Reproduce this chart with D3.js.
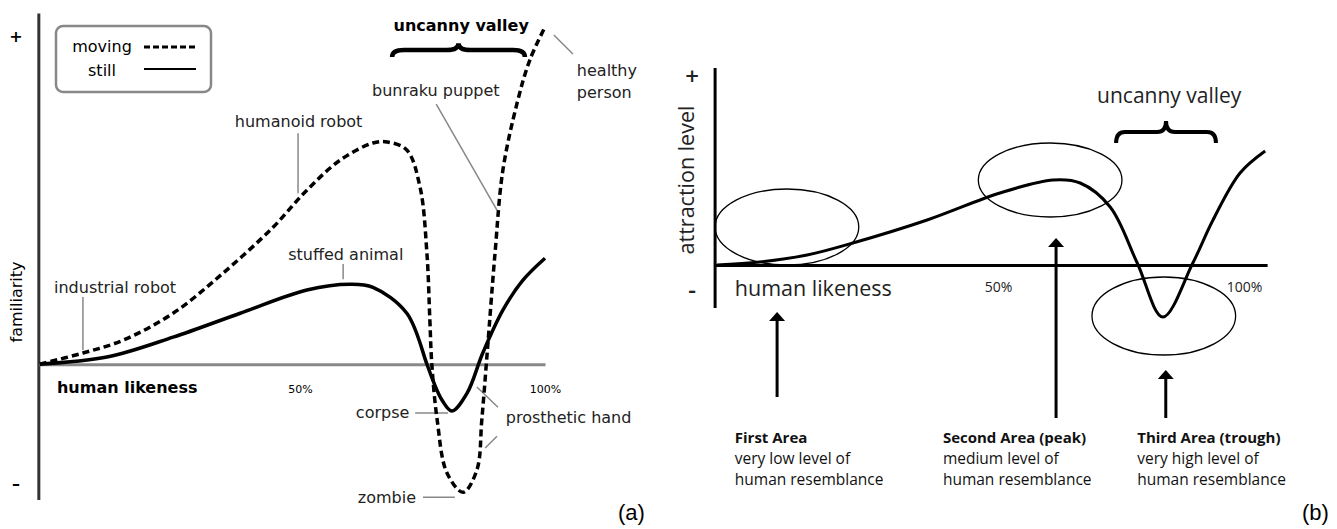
<!DOCTYPE html>
<html>
<head>
<meta charset="utf-8">
<script src="https://cdn.jsdelivr.net/npm/d3@7"></script>
<style>
body { margin: 0; background: #fff; }
</style>
</head>
<body>
<script>
// ---- panel (a): Mori's curve ----
var movingLikeness = [-3.1, 5.7, 13.9, 24.1, 34.3, 44.5, 51.4, 58.2, 64.9, 67.8, 71.8, 74.5, 75.9, 76.5, 76.9, 78.0, 80.0, 83.3, 86.1, 87.1, 88.2, 89.8, 91.4, 94.3, 96.9, 100];
var movingFamiliarity = [0, 3.3, 7.1, 15.1, 27.0, 40.6, 51.6, 60.5, 65.6, 65.9, 63.5, 52.5, 32.9, 13.1, 0, -16.6, -32.3, -38.0, -31.4, -16.6, 3.3, 32.9, 57.5, 77.4, 90.2, 100];

var stillLikeness = [-3.1, 10.6, 24.1, 37.8, 51.4, 60.2, 64.9, 71.8, 75.9, 77.1, 79.0, 81.0, 84.1, 87.3, 91.4, 95.5, 100];
var stillFamiliarity = [0, 2.1, 8.0, 15.1, 22.0, 23.7, 22.8, 15.1, 0, -4.7, -10.7, -13.9, -8.6, 3.3, 16.0, 24.9, 31.4];

var tickValuesA = [50, 100];
var tickLabelsA = ["50%", "100%"];

// ---- panel (b): attraction curve ----
var attrLikeness = [-7.1, 1.6, 11.2, 20.5, 35.6, 50.4, 61.2, 66.7, 72.8, 78.3, 83.5, 89.6, 93.7, 99.2, 104.3];
var attraction = [0, 1.5, 5, 11, 22.5, 36, 42.5, 41, 29, 1, -26, 1, 22.5, 46, 57];

var tickValuesB = [50, 100];
var tickLabelsB = ["50%", "100%"];

var areaTitles = ["First Area", "Second Area (peak)", "Third Area (trough)"];
var areaLine1 = ["very low level of", "medium level of", "very high level of"];
var areaLine2 = ["human resemblance", "human resemblance", "human resemblance"];
var areaX = [5.1, 61.8, 84.1];        // arrow position (likeness)
var areaTip = [-23.5, 13.5, -52.5];    // arrow tip (attraction)
var areaBottom = [-66, -76.5, -76.5];
var areaTextX = [-3.5, 38.8, 78.3];
var ellipseCx = [7.1, 60.6, 83.7];
var ellipseCy = [19, 42.5, -25.5];
var ellipseRx = [14.6, 14.6, 14.6];
var ellipseRy = [19, 18.5, 19.5];

var width = 1337, height = 529;
var fontA = "'DejaVu Sans', sans-serif";
var fontB = "'Open Sans', sans-serif";

var svg = d3.select("body").append("svg")
    .attr("width", width)
    .attr("height", height);

svg.append("rect").attr("width", width).attr("height", height).attr("fill", "#fff");

// ================= panel (a) =================
var xa = d3.scaleLinear().domain([0, 100]).range([55, 545]);
var ya = d3.scaleLinear().domain([-40, 100]).range([499, 27]);

var gA = svg.append("g");

// y axis
gA.append("line")
    .attr("x1", xa(-3.3)).attr("x2", xa(-3.3))
    .attr("y1", ya(104)).attr("y2", ya(-40.3))
    .attr("stroke", "#333").attr("stroke-width", 3);

// x axis
var axA = gA.append("g")
    .attr("transform", "translate(0," + ya(0) + ")")
    .call(d3.axisBottom(xa.copy().domain([-3.3, 100]).range([xa(-3.3), xa(100)]))
        .tickValues(tickValuesA)
        .tickFormat(function(d, i) { return tickLabelsA[i]; })
        .tickSize(0)
        .tickPadding(21));
axA.select(".domain").attr("stroke", "#888").attr("stroke-width", 3);
axA.selectAll("text")
    .style("font-family", fontA).style("font-size", "11px").attr("fill", "#000");

gA.append("text")
    .attr("x", xa(0.4)).attr("y", ya(0) + 29)
    .style("font-family", fontA).style("font-size", "16px").style("font-weight", "bold")
    .text("human likeness");

gA.append("text")
    .attr("transform", "translate(22," + 302 + ") rotate(-90)")
    .attr("text-anchor", "middle")
    .style("font-family", fontA).style("font-size", "16px")
    .text("familiarity");

gA.append("text").attr("x", 16).attr("y", 42).attr("text-anchor", "middle")
    .style("font-family", fontA).style("font-size", "16px").style("font-weight", "bold").text("+");
gA.append("text").attr("x", 16).attr("y", 489).attr("text-anchor", "middle")
    .style("font-family", fontA).style("font-size", "16px").style("font-weight", "bold").text("\u2013");

var lineA = d3.line()
    .x(function(d) { return xa(d[0]); })
    .y(function(d) { return ya(d[1]); })
    .curve(d3.curveCatmullRom.alpha(0.5));

// leader lines (drawn under curves)
var leaders = [
    [5.7, 19.9, 5.7, 4.2],
    [49.6, 68.5, 49.6, 50.7],
    [58.8, 29.7, 58.8, 25.2],
    [77.8, 77.1, 90.2, 45.7],
    [101.8, 97.6, 105.7, 92.0],
    [73.5, -14.5, 80.2, -14.5],
    [86.1, -6.8, 90.4, -12.8],
    [87.8, -24.9, 90.2, -21.4],
    [75.1, -39.5, 81.6, -39.5]
];
gA.selectAll(".leader")
    .data(leaders)
    .enter().append("line")
    .attr("class", "leader")
    .attr("x1", function(d) { return xa(d[0]); })
    .attr("y1", function(d) { return ya(d[1]); })
    .attr("x2", function(d) { return xa(d[2]); })
    .attr("y2", function(d) { return ya(d[3]); })
    .attr("stroke", "#888").attr("stroke-width", 1.5);

gA.append("path")
    .datum(d3.zip(stillLikeness, stillFamiliarity))
    .attr("d", lineA)
    .attr("fill", "none").attr("stroke", "#000").attr("stroke-width", 3.5);

gA.append("path")
    .datum(d3.zip(movingLikeness, movingFamiliarity))
    .attr("d", lineA)
    .attr("fill", "none").attr("stroke", "#000").attr("stroke-width", 3.5)
    .attr("stroke-dasharray", "7,4");

// labels
var labelsA = [
    ["industrial robot", -0.2, 21.1],
    ["humanoid robot", 36.7, 70.3],
    ["stuffed animal", 47.6, 30.9],
    ["bunraku puppet", 64.7, 79.5],
    ["corpse", 61.4, -16.0],
    ["prosthetic hand", 92.0, -17.5],
    ["zombie", 61.8, -41.2]
];
gA.selectAll(".lab")
    .data(labelsA)
    .enter().append("text")
    .attr("class", "lab")
    .attr("x", function(d) { return xa(d[1]); })
    .attr("y", function(d) { return ya(d[2]); })
    .style("font-family", fontA).style("font-size", "16px").attr("fill", "#222")
    .text(function(d) { return d[0]; });

var hp = gA.append("text")
    .attr("x", xa(106.5)).attr("y", ya(85.4))
    .style("font-family", fontA).style("font-size", "16px").attr("fill", "#222");
hp.append("tspan").text("healthy");
hp.append("tspan").attr("x", xa(106.5)).attr("dy", 22).text("person");

gA.append("text")
    .attr("x", xa(82.9)).attr("y", ya(98.8)).attr("text-anchor", "middle")
    .style("font-family", fontA).style("font-size", "16px").style("font-weight", "bold")
    .text("uncanny valley");

function bracePath(x1, x2, yEnd, yTip) {
    var xm = (x1 + x2) / 2, yBar = (yEnd + yTip) / 2, w = (x2 - x1) / 2;
    return "M" + x1 + "," + yEnd +
        " Q" + x1 + "," + yBar + " " + (x1 + w * 0.18) + "," + yBar +
        " L" + (xm - w * 0.18) + "," + yBar +
        " Q" + xm + "," + yBar + " " + xm + "," + yTip +
        " Q" + xm + "," + yBar + " " + (xm + w * 0.18) + "," + yBar +
        " L" + (x2 - w * 0.18) + "," + yBar +
        " Q" + x2 + "," + yBar + " " + x2 + "," + yEnd;
}

gA.append("path")
    .attr("d", bracePath(xa(68.8), xa(95.9), ya(91.1), ya(95.2)))
    .attr("fill", "none").attr("stroke", "#000").attr("stroke-width", 4.5);

// legend
var leg = gA.append("g");
leg.append("rect")
    .attr("x", 56).attr("y", 26).attr("width", 155).attr("height", 66).attr("rx", 7)
    .attr("fill", "#fff").attr("stroke", "#888").attr("stroke-width", 2.5);
leg.append("text").attr("x", 102).attr("y", 52).attr("text-anchor", "middle")
    .style("font-family", fontA).style("font-size", "16px").text("moving");
leg.append("text").attr("x", 102).attr("y", 76).attr("text-anchor", "middle")
    .style("font-family", fontA).style("font-size", "16px").text("still");
leg.append("line").attr("x1", 144).attr("x2", 196).attr("y1", 47).attr("y2", 47)
    .attr("stroke", "#000").attr("stroke-width", 3).attr("stroke-dasharray", "6,3");
leg.append("line").attr("x1", 144).attr("x2", 196).attr("y1", 69).attr("y2", 69)
    .attr("stroke", "#000").attr("stroke-width", 1.8);

svg.append("text").attr("x", 618).attr("y", 520)
    .style("font-family", "'Liberation Sans', sans-serif").style("font-size", "22px")
    .text("(a)");

// ================= panel (b) =================
var xb = d3.scaleLinear().domain([0, 100]).range([752, 1244]);
var yb = d3.scaleLinear().domain([-20, 100]).range([305, 65]);

var gB = svg.append("g");

gB.append("line")
    .attr("x1", xb(-7.5)).attr("x2", xb(-7.5))
    .attr("y1", yb(98.5)).attr("y2", yb(-21.5))
    .attr("stroke", "#000").attr("stroke-width", 3);

var axB = gB.append("g")
    .attr("transform", "translate(0," + yb(0) + ")")
    .call(d3.axisBottom(xb.copy().domain([-7.5, 104.7]).range([xb(-7.5), xb(104.7)]))
        .tickValues(tickValuesB)
        .tickFormat(function(d, i) { return tickLabelsB[i]; })
        .tickSize(0)
        .tickPadding(17));
axB.select(".domain").attr("stroke", "#000").attr("stroke-width", 3);
axB.selectAll("text")
    .style("font-family", fontB).style("font-size", "14px").attr("fill", "#222");

gB.append("text")
    .attr("x", xb(-3.5)).attr("y", yb(0) + 31)
    .style("font-family", fontB).style("font-size", "21.5px").attr("fill", "#222")
    .text("human likeness");

gB.append("text")
    .attr("transform", "translate(694,180) rotate(-90)")
    .attr("text-anchor", "middle")
    .style("font-family", fontB).style("font-size", "21.5px").attr("fill", "#222")
    .text("attraction level");

gB.append("text").attr("x", 692).attr("y", 85).attr("text-anchor", "middle")
    .style("font-family", fontB).style("font-size", "24px").style("font-weight", "600")
    .attr("fill", "#222").text("+");
gB.append("text").attr("x", 692).attr("y", 298).attr("text-anchor", "middle")
    .style("font-family", fontB).style("font-size", "24px").style("font-weight", "600")
    .attr("fill", "#222").text("-");

var lineB = d3.line()
    .x(function(d) { return xb(d[0]); })
    .y(function(d) { return yb(d[1]); })
    .curve(d3.curveCatmullRom.alpha(0.5));

gB.append("path")
    .datum(d3.zip(attrLikeness, attraction))
    .attr("d", lineB)
    .attr("fill", "none").attr("stroke", "#000").attr("stroke-width", 3);

gB.selectAll(".area-ellipse")
    .data(d3.range(ellipseCx.length))
    .enter().append("ellipse")
    .attr("class", "area-ellipse")
    .attr("cx", function(i) { return xb(ellipseCx[i]); })
    .attr("cy", function(i) { return yb(ellipseCy[i]); })
    .attr("rx", function(i) { return xb(ellipseCx[i] + ellipseRx[i]) - xb(ellipseCx[i]); })
    .attr("ry", function(i) { return yb(ellipseCy[i] - ellipseRy[i]) - yb(ellipseCy[i]); })
    .attr("fill", "none").attr("stroke", "#000").attr("stroke-width", 1.3);

gB.append("text")
    .attr("x", xb(84.8)).attr("y", yb(81)).attr("text-anchor", "middle")
    .style("font-family", fontB).style("font-size", "21px").attr("fill", "#222")
    .text("uncanny valley");

gB.append("path")
    .attr("d", bracePath(xb(74.0), xb(94.3), yb(61), yb(72)))
    .attr("fill", "none").attr("stroke", "#000").attr("stroke-width", 4);

// arrows and area captions
var areas = gB.selectAll(".area")
    .data(d3.range(areaTitles.length))
    .enter().append("g")
    .attr("class", "area");

areas.append("line")
    .attr("x1", function(i) { return xb(areaX[i]); })
    .attr("x2", function(i) { return xb(areaX[i]); })
    .attr("y1", function(i) { return yb(areaTip[i]) + 8; })
    .attr("y2", function(i) { return yb(areaBottom[i]); })
    .attr("stroke", "#000").attr("stroke-width", 3);

areas.append("path")
    .attr("d", function(i) {
        var x = xb(areaX[i]), y = yb(areaTip[i]);
        return "M" + x + "," + y + " L" + (x + 8) + "," + (y + 9) + " L" + (x - 8) + "," + (y + 9) + " Z";
    })
    .attr("fill", "#000");

var captions = areas.append("text")
    .attr("x", function(i) { return xb(areaTextX[i]); })
    .attr("y", function(i) { return yb(-76.5) + 25; })
    .style("font-family", fontB).style("font-size", "15.5px").attr("fill", "#111");
captions.append("tspan")
    .style("font-weight", "bold")
    .style("font-size", "15px")
    .text(function(i) { return areaTitles[i]; });
captions.append("tspan")
    .attr("x", function(i) { return xb(areaTextX[i]); })
    .attr("dy", 21)
    .text(function(i) { return areaLine1[i]; });
captions.append("tspan")
    .attr("x", function(i) { return xb(areaTextX[i]); })
    .attr("dy", 21)
    .text(function(i) { return areaLine2[i]; });

svg.append("text").attr("x", 1302).attr("y", 520)
    .style("font-family", "'Liberation Sans', sans-serif").style("font-size", "22px")
    .text("(b)");
</script>
</body>
</html>
